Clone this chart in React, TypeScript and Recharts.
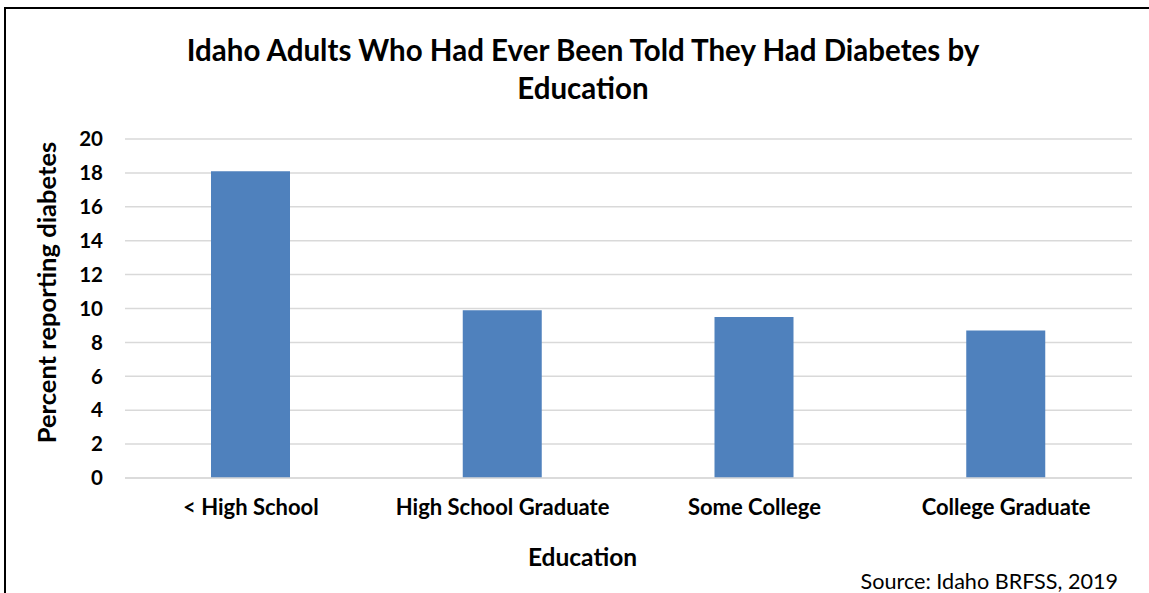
import React from "react";
import { BarChart, Bar, XAxis, YAxis, CartesianGrid, Label } from "recharts";

const categories = ["< High School", "High School Graduate", "Some College", "College Graduate"];
const percentValues = [18.1, 9.9, 9.5, 8.7];
const yTicks = [0, 2, 4, 6, 8, 10, 12, 14, 16, 18, 20];
const titleLines = ["Idaho Adults Who Had Ever Been Told They Had Diabetes by", "Education"];
const xAxisTitle = "Education";
const yAxisTitle = "Percent reporting diabetes";
const sourceNote = "Source: Idaho BRFSS, 2019";

const data = categories.map((c, i) => ({ category: c, value: percentValues[i] }));

const FONT = "Lato, 'Open Sans', sans-serif";

export default function App() {
  return (
    <div style={{ position: "absolute", left: 0, top: 0, width: 1149, height: 593, background: "#fff", overflow: "hidden", fontFamily: FONT }}>
      <div style={{ position: "absolute", left: 4, top: 7, width: 1200, height: 700, borderTop: "2px solid #000", borderLeft: "2px solid #000" }} />
      <div style={{ position: "absolute", left: 0, width: 1166, top: 31, textAlign: "center", fontWeight: 700, fontSize: 29.5, lineHeight: "38px", color: "#000" }}>
        {titleLines.map((t, i) => (
          <div key={i}>{t}</div>
        ))}
      </div>
      <div style={{ position: "absolute", right: 31, top: 567, fontSize: 21.6, color: "#000", lineHeight: "28px" }}>{sourceNote}</div>
      <div style={{ position: "absolute", left: 0, top: 0 }}>
        <BarChart width={1149} height={593} data={data} margin={{ top: 139, right: 17, bottom: 0, left: 20 }}>
          <CartesianGrid horizontal vertical={false} stroke="#d9d9d9" strokeWidth={1.5} />
          <XAxis
            dataKey="category"
            height={115}
            tickLine={false}
            axisLine={{ stroke: "#d9d9d9", strokeWidth: 1.5 }}
            tickSize={0}
            tickMargin={21}
            tick={{ fill: "#000", fontSize: 22, fontWeight: 700, fontFamily: FONT }}
            interval={0}
          >
            <Label value={xAxisTitle} position="insideBottom" offset={27} dx={-46} style={{ fill: "#000", fontSize: 24.5, fontWeight: 700, fontFamily: FONT }} />
          </XAxis>
          <YAxis
            domain={[0, 20]}
            ticks={yTicks}
            interval={0}
            width={105}
            tickLine={false}
            axisLine={false}
            tickSize={0}
            tickMargin={22}
            tick={{ fill: "#000", fontSize: 20.5, fontWeight: 700, fontFamily: FONT }}
          >
            <Label value={yAxisTitle} angle={-90} position="insideLeft" offset={0} dx={27} dy={-16} style={{ textAnchor: "middle", fill: "#000", fontSize: 25.5, fontWeight: 700, fontFamily: FONT }} />
          </YAxis>
          <Bar dataKey="value" fill="#4F81BD" barSize={79} isAnimationActive={false} />
        </BarChart>
      </div>
    </div>
  );
}
